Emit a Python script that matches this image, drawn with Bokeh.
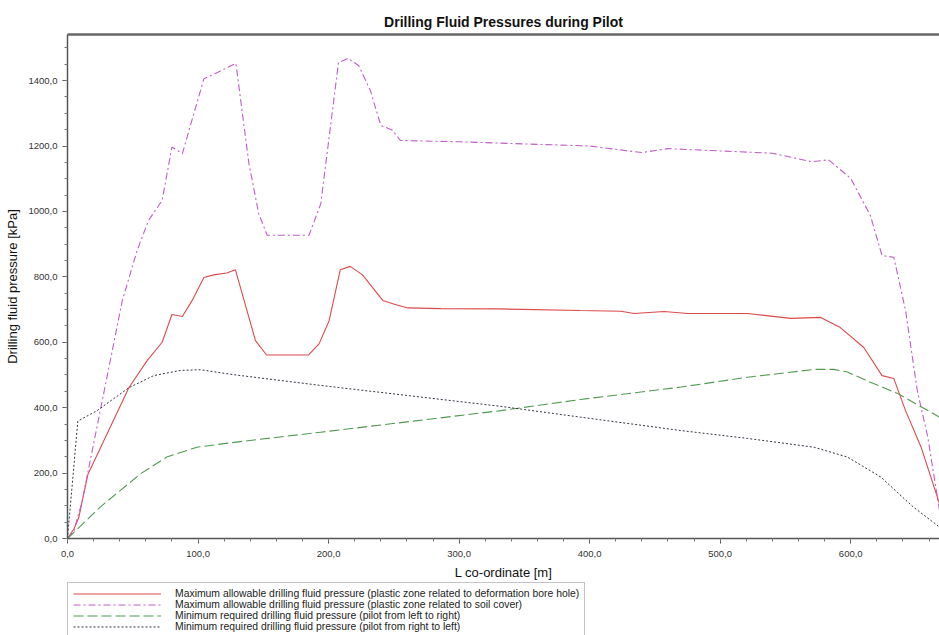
from bokeh.plotting import figure
from bokeh.layouts import column
from bokeh.models import (Range1d, SingleIntervalTicker, CustomJSTickFormatter, Legend,
                          LegendItem, LinearAxis, FixedTicker)
from bokeh.embed import file_html
from bokeh.resources import INLINE

# ---- data ----
red_x = [0, 5, 8.7, 15.6, 47, 61, 72.5, 80, 88, 95.5, 104.5, 112, 122, 128.6, 144, 152.5,
         184.5, 192.7, 200.4, 209, 216.5, 226, 241.5, 250.4, 260.7, 286, 330, 393, 424, 434,
         457, 475, 521, 554, 577, 592, 610, 624, 633, 642, 654, 668]
red_y = [0, 30, 65, 196, 461, 544, 600, 685, 679, 728, 798, 806, 812, 822, 605, 561,
         561, 595, 666, 822, 832, 806, 728, 716, 705, 703, 702, 697, 695, 688,
         694, 688, 688, 673, 676, 645, 584, 498, 489, 391, 278, 107]

mag_x = [0, 5, 11, 42, 53.4, 62, 72.5, 80, 88, 104.5, 112, 129, 139, 146.5, 153, 185, 194,
         207.6, 215, 223, 232, 240, 249, 255, 300, 400, 440, 460, 500, 540, 570, 583, 600,
         615, 624, 633, 642, 651, 659, 668]
mag_y = [0, 25, 110, 728, 881, 972, 1034, 1197, 1177, 1406, 1419, 1453, 1146, 993, 927, 927, 1023,
         1455, 1468, 1446, 1370, 1263, 1248, 1217, 1213, 1200, 1180, 1192, 1185, 1178, 1152, 1158, 1101,
         988, 865, 860, 697, 452, 310, 86]

grn_x = [0, 25, 56, 76, 99, 127.5, 194, 332, 393, 470, 521, 572, 587, 597.5, 615, 636, 668]
grn_y = [0, 96, 198, 249, 279, 294, 325, 391, 425, 463, 493, 517, 517, 509, 478, 443, 371]

dot_x = [0, 7.9, 22.7, 47, 66, 86.6, 102, 127, 194, 332, 393, 470, 521, 572, 597.5, 623, 648, 668]
dot_y = [0, 359, 391, 461, 498, 514, 516, 501, 468, 404, 371, 330, 306, 279, 249, 188, 96, 35]

labels = [
    "Maximum allowable drilling fluid pressure (plastic zone related to deformation bore hole)",
    "Maximum allowable drilling fluid pressure (plastic zone related to soil cover)",
    "Minimum required drilling fluid pressure (pilot from left to right)",
    "Minimum required drilling fluid pressure (pilot from right to left)",
]

FONT = "Liberation Sans"
STYLES = [dict(line_color="#dd4a4a", line_width=1.1),
          dict(line_color="#c25ccc", line_width=1.1, line_dash="7 3 2 3"),
          dict(line_color="#4f9a4f", line_width=1.1, line_dash="10 4"),
          dict(line_color="#333344", line_width=1.0, line_dash="2 2")]
SERIES = [(red_x, red_y), (mag_x, mag_y), (grn_x, grn_y), (dot_x, dot_y)]

p = figure(frame_width=872, frame_height=504, output_backend="svg", toolbar_location=None,
           x_range=Range1d(0, 668), y_range=Range1d(0, 1541),
           min_border_left=67, min_border_right=0, min_border_top=34, min_border_bottom=44,
           title="Drilling Fluid Pressures during Pilot")
p.title.align = "center"
p.title.text_font = FONT
p.title.text_font_size = "14px"
p.title.text_font_style = "bold"
p.title.text_color = "#111111"
p.outline_line_color = None
p.xgrid.visible = False
p.ygrid.visible = False
p.background_fill_color = "white"
p.border_fill_color = "white"

fmt = CustomJSTickFormatter(code="return tick.toFixed(1).replace('.', ',');")

for ax in (p.xaxis[0], p.yaxis[0]):
    ax.formatter = fmt
    ax.major_label_text_font = FONT
    ax.major_label_text_font_size = "9.5px"
    ax.major_label_text_color = "#333333"
    ax.axis_label_text_font = FONT
    ax.axis_label_text_font_size = "13px"
    ax.axis_label_text_font_style = "normal"
    ax.axis_label_text_color = "#111111"
    ax.axis_line_color = "#555555"
    ax.axis_line_width = 1.5
    ax.major_tick_line_color = "#555555"
    ax.minor_tick_line_color = "#777777"
    ax.major_tick_in = 0
    ax.major_tick_out = 5
    ax.minor_tick_in = 0
    ax.minor_tick_out = 3

p.xaxis[0].ticker = SingleIntervalTicker(interval=100, num_minor_ticks=5)
p.yaxis[0].ticker = SingleIntervalTicker(interval=200, num_minor_ticks=4)
p.xaxis[0].major_label_standoff = 7
p.xaxis[0].axis_label = "L co-ordinate [m]"
p.yaxis[0].axis_label = "Drilling fluid pressure [kPa]"

top = LinearAxis(ticker=FixedTicker(ticks=[]), major_label_text_font_size="0px",
                 axis_line_color="#666666", axis_line_width=2.5,
                 major_tick_out=0, minor_tick_out=0, major_tick_in=0, minor_tick_in=0)
p.add_layout(top, "above")

for (sx, sy), st in zip(SERIES, STYLES):
    p.line(sx, sy, **st)

# legend strip below the chart: same series, drawn off-range so only the legend shows
q = figure(width=939, height=53, output_backend="svg", toolbar_location=None,
           x_axis_location=None, y_axis_location=None,
           x_range=Range1d(5000, 5001), y_range=Range1d(5000, 5001),
           min_border_left=66, min_border_right=0, min_border_top=0, min_border_bottom=0)
q.outline_line_color = None
q.xgrid.visible = False
q.ygrid.visible = False
q.border_fill_color = "white"
q.background_fill_color = "white"
items = []
for lab, (sx, sy), st in zip(labels, SERIES, STYLES):
    rr = q.line(sx, sy, **st)
    items.append(LegendItem(label=lab, renderers=[rr]))

legend = Legend(items=items, location="top_left", orientation="vertical",
                label_text_font=FONT, label_text_font_size="10.4px", label_text_color="#222222",
                glyph_width=88, glyph_height=11, label_height=11, label_standoff=14,
                spacing=0, padding=5, margin=0,
                border_line_color="#888888", border_line_width=1,
                background_fill_color="white")
q.add_layout(legend, "center")

layout = column(p, q, spacing=0)
open("out.html", "w").write(file_html(layout, INLINE))
